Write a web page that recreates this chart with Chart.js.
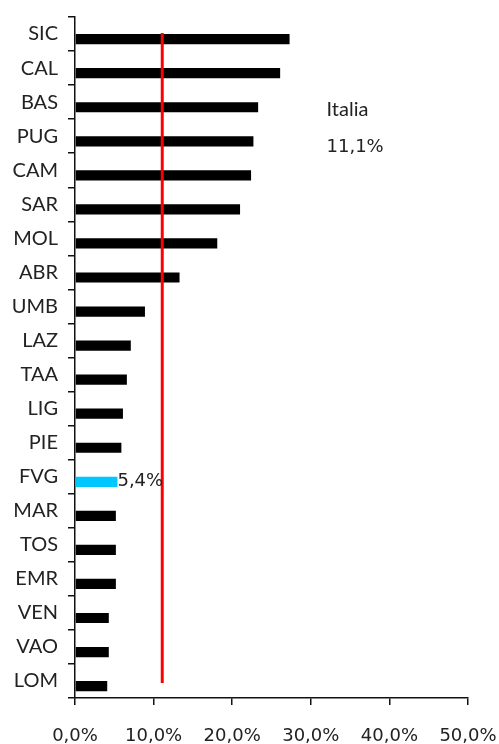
<!DOCTYPE html>
<html>
<head>
<meta charset="utf-8">
<script src="https://cdn.jsdelivr.net/npm/chart.js@4/dist/chart.umd.min.js"></script>
<style>
  html, body { margin: 0; padding: 0; background: #fff; }
  #wrap { width: 499px; height: 744px; }
</style>
</head>
<body>
<div id="wrap"><canvas id="regioni"></canvas></div>
<script>
'use strict';

// regional rates, % (highlighted region drawn in cyan)
const regioni = ['SIC', 'CAL', 'BAS', 'PUG', 'CAM', 'SAR', 'MOL', 'ABR', 'UMB', 'LAZ',
                 'TAA', 'LIG', 'PIE', 'FVG', 'MAR', 'TOS', 'EMR', 'VEN', 'VAO', 'LOM'];
const valori = [27.3, 26.1, 23.3, 22.7, 22.4, 21.0, 18.1, 13.3, 8.9, 7.1,
                6.6, 6.1, 5.9, 5.4, 5.2, 5.2, 5.2, 4.3, 4.3, 4.1];
const evidenziata = 'FVG';
const italia = 11.1;
const xTicks = [0, 10, 20, 30, 40, 50];

const fmt = v => v.toFixed(1).replace('.', ',') + '%';
const numFont = '18px "DejaVu Sans"';
const labelFont = { family: 'Lato', size: 20 };

// red national line, its label and the value of the highlighted bar
const extras = {
  id: 'extras',
  afterDatasetsDraw(chart) {
    const { ctx, scales: { x, y } } = chart;
    const xi = x.getPixelForValue(italia);
    ctx.save();
    ctx.strokeStyle = '#ff0000';
    ctx.lineWidth = 3;
    ctx.beginPath();
    ctx.moveTo(xi, y.getPixelForValue(0) - 1);
    ctx.lineTo(xi, y.getPixelForValue(regioni.length - 1) + 2);
    ctx.stroke();

    const tx = x.getPixelForValue(32);
    ctx.fillStyle = '#222';
    ctx.textBaseline = 'middle';
    ctx.textAlign = 'left';
    ctx.font = '20px Lato';
    ctx.fillText('Italia', tx, (y.getPixelForValue(2) + y.getPixelForValue(3)) / 2 - 10);
    ctx.font = numFont;
    ctx.fillText(fmt(italia), tx, (y.getPixelForValue(3) + y.getPixelForValue(4)) / 2 - 6);

    const i = regioni.indexOf(evidenziata);
    const bar = chart.getDatasetMeta(1).data[i];
    ctx.fillText(fmt(valori[i]), bar.x, bar.y);
    ctx.restore();
  }
};

new Chart(document.getElementById('regioni'), {
  type: 'bar',
  data: {
    labels: regioni,
    datasets: [
      { label: '', data: [] },
      {
        label: 'Regioni',
        data: valori,
        backgroundColor: regioni.map(r => r === evidenziata ? '#00c8ff' : '#000000'),
        categoryPercentage: 0.6,
        barPercentage: 1.0
      }
    ]
  },
  options: {
    indexAxis: 'y',
    responsive: true,
    maintainAspectRatio: false,
    animation: false,
    layout: { padding: { top: 17, right: 31, left: 0, bottom: 0 } },
    plugins: { legend: { display: false }, tooltip: { enabled: false } },
    scales: {
      x: {
        min: 0,
        max: 50,
        afterBuildTicks(scale) { scale.ticks = xTicks.map(v => ({ value: v })); },
        afterFit(scale) {
          scale.height = 46;
          scale.paddingLeft = 0;
          scale.paddingRight = 0;
        },
        border: { color: '#111', width: 1.5 },
        grid: { drawOnChartArea: false, drawTicks: true, tickLength: 7, color: '#111', lineWidth: 1.5 },
        ticks: { callback: v => fmt(v), color: '#222', font: { family: 'DejaVu Sans', size: 18 }, padding: 21, maxRotation: 0 }
      },
      y: {
        afterFit(scale) {
          scale.width = 75;
          scale.paddingTop = 0;
          scale.paddingBottom = 0;
        },
        border: { color: '#111', width: 1.5 },
        grid: { drawOnChartArea: false, drawTicks: true, tickLength: 7, color: '#111', lineWidth: 1.5, offset: true },
        ticks: { color: '#222', font: labelFont, padding: 10 }
      }
    }
  },
  plugins: [extras]
});
</script>
</body>
</html>
